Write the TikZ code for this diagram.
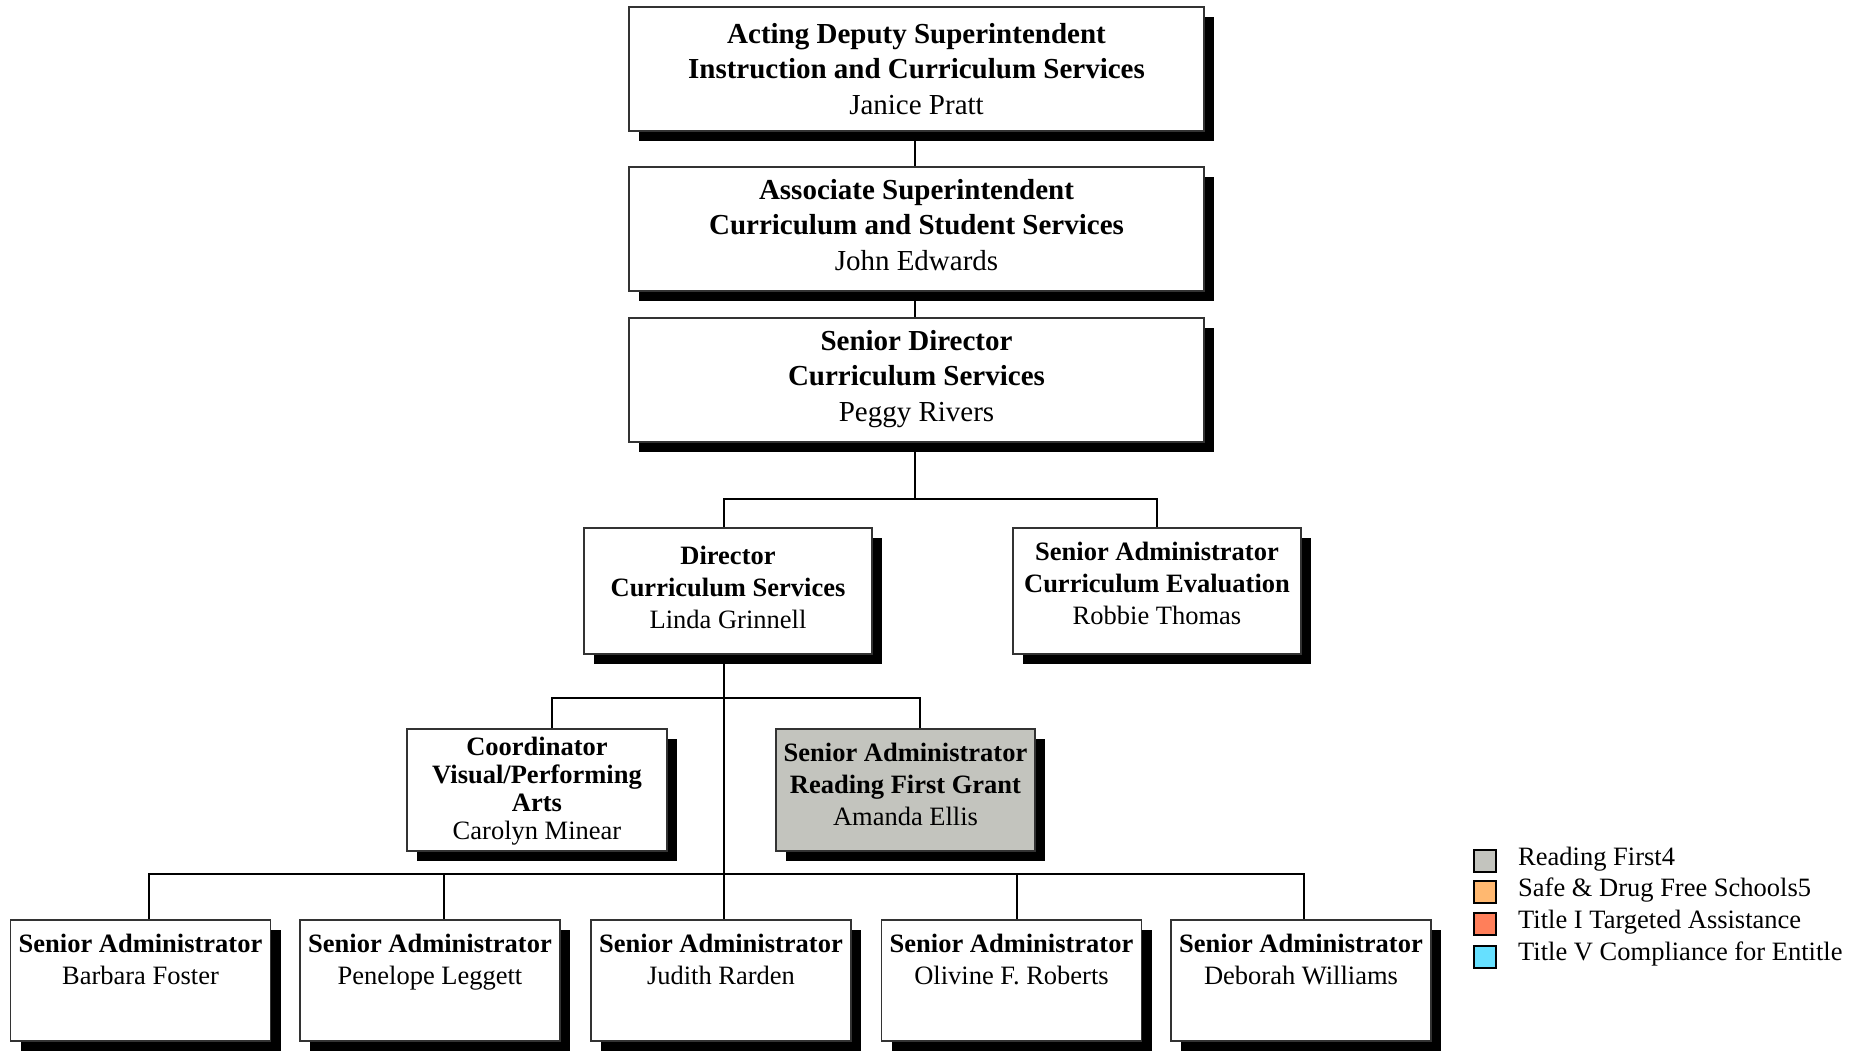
\documentclass[tikz,border=0pt]{standalone}
\usepackage{fontspec}
\setmainfont{Liberation Serif}
\usetikzlibrary{shadows,backgrounds,calc}
\definecolor{rfgrey}{HTML}{C3C4BE}
\definecolor{sdorange}{HTML}{FFB870}
\definecolor{tired}{HTML}{FF7F5A}
\definecolor{tvcyan}{HTML}{66E0FF}
\begin{document}
\begin{tikzpicture}[x=1pt,y=-1pt,
  orgbox/.style={draw=black!80, line width=1.4pt, fill=white, inner sep=0pt,
    drop shadow={shadow xshift=10pt, shadow yshift=-10pt, opacity=1, fill=black}},
  bigtxt/.style={align=center, inner sep=0pt, font=\fontsize{29}{35.5}\selectfont},
  smtxt/.style={align=center, inner sep=0pt, font=\fontsize{26.5}{32}\selectfont},
  cotxt/.style={align=center, inner sep=0pt, font=\fontsize{26.5}{27.8}\selectfont},
  conn/.style={draw=black, line width=1.8pt},
  legsq/.style={draw=black, line width=1.8pt, minimum width=22pt, minimum height=22pt, inner sep=0pt},
  legtxt/.style={anchor=base west, inner sep=0pt, font=\fontsize{26.5}{32}\selectfont}]
\useasboundingbox (0,0) rectangle (1868,1050);

% top chain
\node[orgbox, minimum width=575pt, minimum height=124pt] (A) at (916.5,69) {};
\node[bigtxt] (At) at (A) {\textbf{Acting Deputy Superintendent}\\\textbf{Instruction and Curriculum Services}\\Janice Pratt};
\node[orgbox, minimum width=575pt, minimum height=124pt] (B) at (916.5,229) {};
\node[bigtxt] (Bt) at ($(B)+(0,-4)$) {\textbf{Associate Superintendent}\\\textbf{Curriculum and Student Services}\\John Edwards};
\node[orgbox, minimum width=575pt, minimum height=124pt] (C) at (916.5,380) {};
\node[bigtxt] (Ct) at ($(C)+(0,-1)$) {\textbf{Senior Director}\\\textbf{Curriculum Services}\\Peggy Rivers};

% second level
\node[orgbox, minimum width=288pt, minimum height=126pt] (D) at (728,591) {};
\node[smtxt] (Dt) at ($(D)+(0,-4)$) {\textbf{Director}\\\textbf{Curriculum Services}\\Linda Grinnell};
\node[orgbox, minimum width=288pt, minimum height=126pt] (E) at (1157,591) {};
\node[smtxt] (Et) at ($(E)+(0,-8)$) {\textbf{Senior Administrator}\\\textbf{Curriculum Evaluation}\\Robbie Thomas};

% third level
\node[orgbox, minimum width=260pt, minimum height=122pt] (F) at (537,790) {};
\node[cotxt] (Ft) at ($(F)+(0,1)$) {\textbf{Coordinator}\\\textbf{Visual/Performing}\\\textbf{Arts}\\Carolyn Minear};
\node[orgbox, fill=rfgrey, minimum width=259pt, minimum height=122pt] (G) at (905.5,790) {};
\node[smtxt] (Gt) at ($(G)+(0,-6)$) {\textbf{Senior Administrator}\\\textbf{Reading First Grant}\\Amanda Ellis};

% bottom level
\foreach \n/\x/\who in {BF/140.5/Barbara Foster, PL/430/Penelope Leggett, JR/721/Judith Rarden, OR/1011.5/Olivine F. Roberts, DW/1301/Deborah Williams}{
  \node[orgbox, minimum width=260pt, minimum height=121pt] (\n) at (\x,980.5) {};
  \node[smtxt, anchor=north] (\n t) at ($(\n.north)+(0,15)$) {\textbf{Senior Administrator}\\\who};
}

% legend
\node[legsq, fill=rfgrey] (L1) at (1485,861) {};
\node[legtxt] (L1t) at (1518,865) {Reading First4};
\node[legsq, fill=sdorange] (L2) at (1485,892) {};
\node[legtxt] (L2t) at (1518,896.5) {Safe \& Drug Free Schools5};
\node[legsq, fill=tired] (L3) at (1485,924) {};
\node[legtxt] (L3t) at (1518,928) {Title I Targeted Assistance};
\node[legsq, fill=tvcyan] (L4) at (1485,957) {};
\node[legtxt] (L4t) at (1518,960.5) {Title V Compliance for Entitle};

% connectors
\begin{pgfonlayer}{background}
\coordinate (b1) at (0,499);
\coordinate (b2) at (0,698);
\coordinate (b3) at (0,874);
\coordinate (tx) at (915,0);
\coordinate (sp) at (724,0);
\coordinate (fx) at (552,0);
\coordinate (gx) at (920,0);
\coordinate (bfc) at ([xshift=8.5pt]BF.north);
\coordinate (plc) at ([xshift=14pt]PL.north);
\coordinate (orc) at ([xshift=5.5pt]OR.north);
\coordinate (dwc) at ([xshift=3pt]DW.north);
\draw[conn] (A.south -| tx) -- (B.north -| tx);
\draw[conn] (B.south -| tx) -- (C.north -| tx);
\draw[conn] (C.south -| tx) -- (tx |- b1);
\draw[conn] (D.north -| sp) -- (sp |- b1) -- (E.north |- b1) -- (E.north);
\draw[conn] (D.south -| sp) -- (JR.north -| sp);
\draw[conn] (F.north -| fx) -- (fx |- b2) -- (gx |- b2) -- (G.north -| gx);
\draw[conn] (bfc) -- (bfc |- b3) -- (dwc |- b3) -- (dwc);
\draw[conn] (plc) -- (plc |- b3);
\draw[conn] (orc) -- (orc |- b3);
\end{pgfonlayer}
\end{tikzpicture}
\end{document}
